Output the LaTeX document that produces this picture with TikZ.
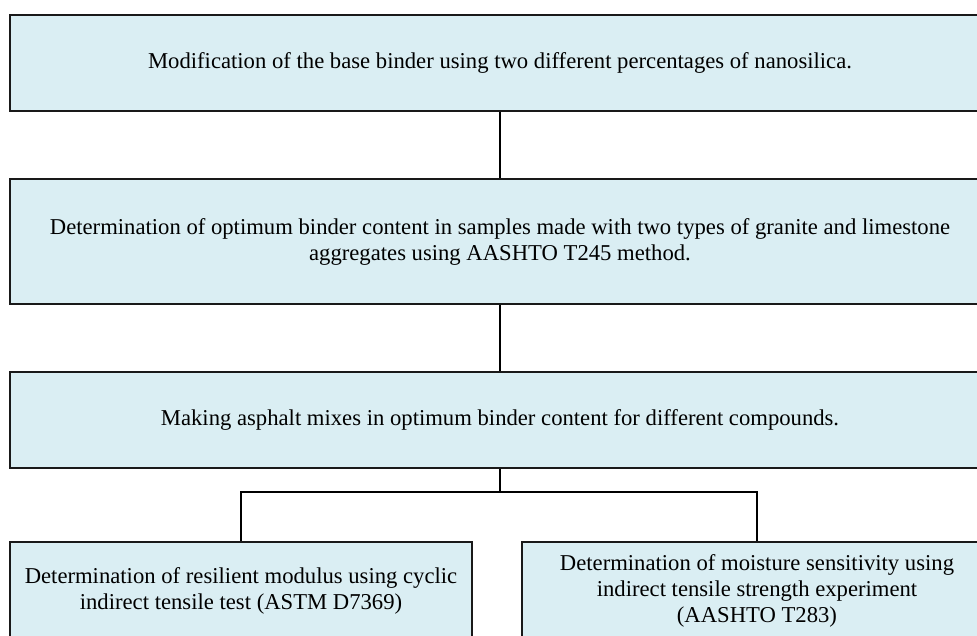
\documentclass[tikz,border=0pt]{standalone}
\usepackage{fontspec}
\setmainfont{Liberation Serif}
\usetikzlibrary{positioning}

\definecolor{boxfill}{HTML}{DAEEF3}

\begin{document}
\begin{tikzpicture}[x=0.75pt, y=-0.75pt]
  % \draw[help lines] (0,0) grid (977,635);

  \tikzset{step box/.style={rectangle,draw=black!90,line width=1.1pt,fill=boxfill,
      align=center,inner sep=0pt,font=\fontsize{17}{19.5}\selectfont}}
  \tikzset{wide box/.style={step box,minimum width=735pt}}
  \tikzset{half box/.style={step box,minimum height=73.5pt}}
  \tikzset{link/.style={draw=black,line width=0.9pt}}

  \useasboundingbox (0,0) rectangle (977,635);

  \path
    (500, 63) node[wide box,minimum height=72pt](modify)
      {Modification of the base binder using two different percentages of nanosilica.}
    (500, 241.5) node[wide box,minimum height=93.75pt](optimum)
      {Determination of optimum binder content in samples made with two types of granite and limestone\\
       aggregates using AASHTO T245 method.}
    (500, 420) node[wide box,minimum height=72pt](mixes)
      {Making asphalt mixes in optimum binder content for different compounds.}
    (241, 591) node[half box,minimum width=346.5pt](resilient)
      {Determination of resilient modulus using cyclic\\ indirect tensile test (ASTM D7369)}
    (757, 591) node[half box,minimum width=352.5pt](moisture)
      {Determination of moisture sensitivity using\\ indirect tensile strength experiment\\ (AASHTO T283)}
  ;

  \coordinate (split) at (500, 492);

  \draw[link] (modify) -- (optimum);
  \draw[link] (optimum) -- (mixes);
  \draw[link] (mixes) -- (split) -| (resilient);
  \draw[link] (split) -| (moisture);

\end{tikzpicture}
\end{document}
